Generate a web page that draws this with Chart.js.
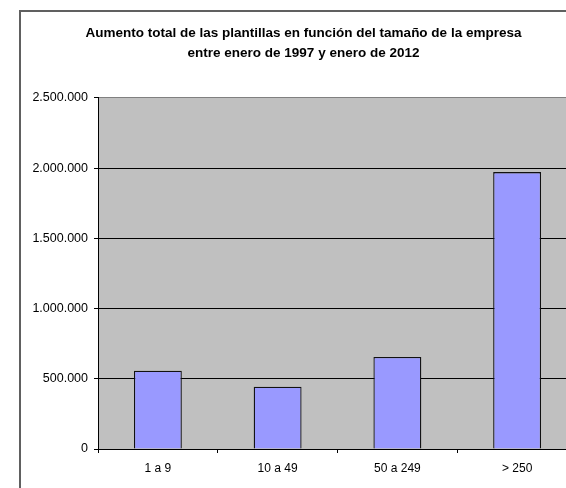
<!DOCTYPE html>
<html>
<head>
<meta charset="utf-8">
<script src="https://cdn.jsdelivr.net/npm/chart.js@4.4.1/dist/chart.umd.min.js"></script>
<style>
  html, body { margin: 0; padding: 0; background: #fff; overflow: hidden; }
  #wrap { width: 608px; height: 488px; }
</style>
</head>
<body>
<div id="wrap"><canvas id="myChart" width="608" height="488"></canvas></div>
<script>
// data
const categories = ["1 a 9", "10 a 49", "50 a 249", "> 250"];
const aumento = [557000, 443000, 656000, 1972000];
const titleLines = [
  "Aumento total de las plantillas en función del tamaño de la empresa",
  "entre enero de 1997 y enero de 2012"
];
const yMin = 0;
const yMax = 2500000;
const yStep = 500000;

// 2500000 -> "2.500.000"
const fmt = v => String(v).replace(/\B(?=(\d{3})+(?!\d))/g, ".");

// gray plot area + outer frame
const frame = {
  id: "frame",
  beforeDraw(chart) {
    const { ctx, chartArea: a } = chart;
    ctx.save();
    ctx.fillStyle = "#c0c0c0";
    ctx.fillRect(a.left, a.top, a.right - a.left, a.bottom - a.top);
    ctx.strokeStyle = "#606060";
    ctx.lineWidth = 2;
    ctx.beginPath();
    ctx.moveTo(20, chart.height);
    ctx.lineTo(20, 11);
    ctx.lineTo(chart.width, 11);
    ctx.stroke();
    ctx.restore();
  }
};

const printChart = () => {
  const ctx = document.getElementById("myChart").getContext("2d");
  new Chart(ctx, {
    type: "bar",
    data: {
      labels: categories,
      datasets: [
        {
          label: "Aumento",
          data: aumento,
          backgroundColor: "#9999ff",
          borderColor: "#111",
          borderWidth: 1.3,
          barPercentage: 0.4,
          categoryPercentage: 1
        }
      ]
    },
    options: {
      responsive: false,
      animation: false,
      layout: { padding: { top: 23, left: 30, right: 31, bottom: 0 } },
      plugins: {
        legend: { display: false },
        tooltip: { enabled: false },
        title: {
          display: true,
          text: titleLines,
          color: "#000",
          font: { family: "Liberation Sans", size: 13.5, weight: "bold", lineHeight: 1.48 },
          padding: { top: 0, bottom: 35 }
        }
      },
      scales: {
        x: {
          grid: {
            offset: true,
            drawOnChartArea: false,
            drawTicks: true,
            tickLength: 4,
            color: "#000"
          },
          border: { color: "#000", width: 1 },
          ticks: {
            color: "#000",
            padding: 8,
            font: { family: "Liberation Sans", size: 12 },
            maxRotation: 0
          },
          afterFit: s => { s.height = 39; }
        },
        y: {
          min: yMin,
          max: yMax,
          grid: {
            color: c => (c.tick && c.tick.value === yMax ? "#808080" : "#000"),
            tickColor: "#000",
            tickLength: 4,
            lineWidth: 1
          },
          border: { color: "#000", width: 1 },
          ticks: {
            stepSize: yStep,
            color: "#000",
            padding: 6,
            font: { family: "Liberation Sans", size: 12.5 },
            callback: v => fmt(v)
          },
          afterFit: s => { s.width = 68; }
        }
      }
    },
    plugins: [frame]
  });
};

printChart();
</script>
</body>
</html>
